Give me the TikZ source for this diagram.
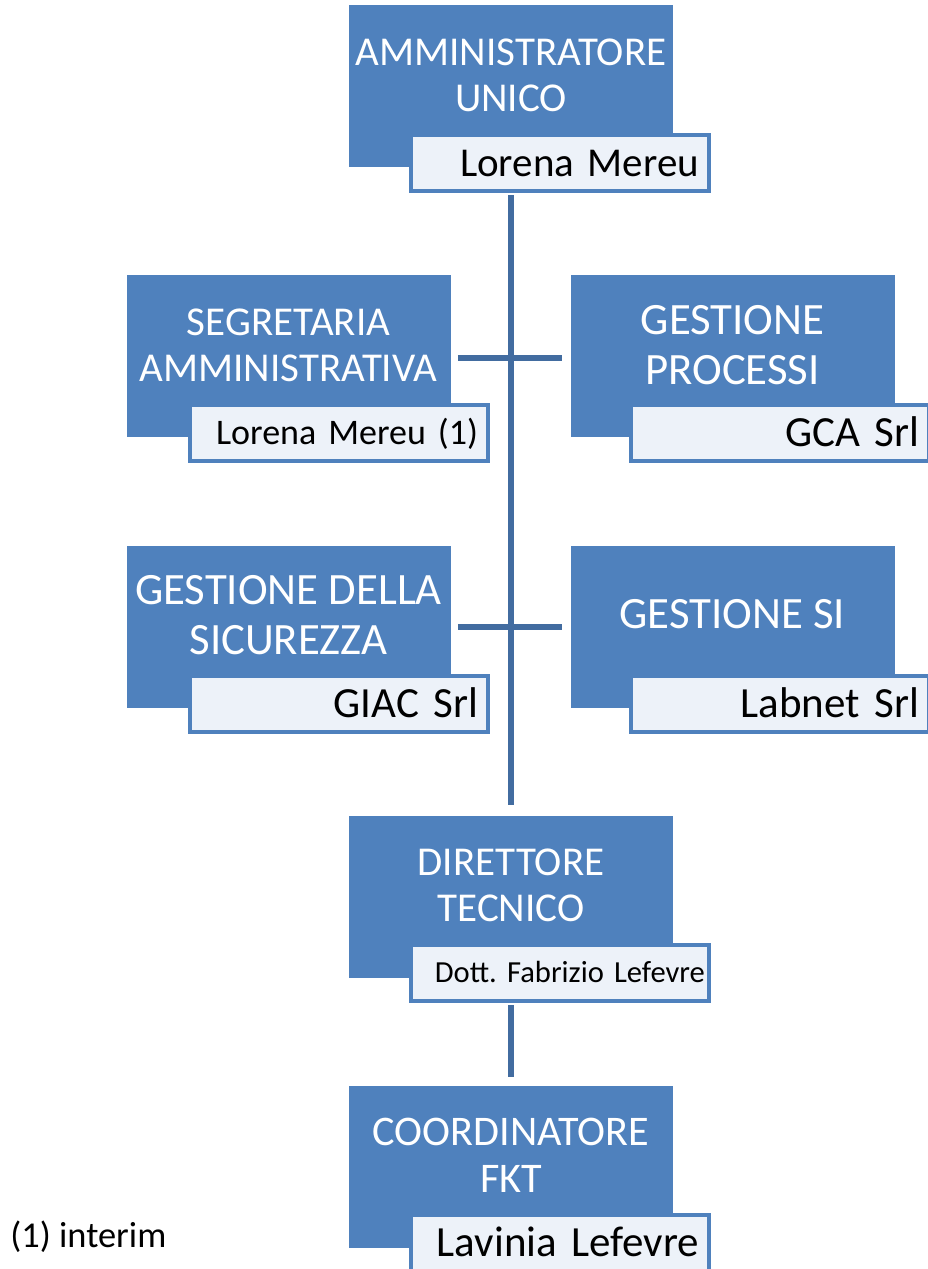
\documentclass[tikz,border=0pt]{standalone}
\usepackage{fontspec}
\setmainfont{Carlito}
\frenchspacing
\usetikzlibrary{positioning,calc}
\definecolor{unitblue}{RGB}{79,129,189}
\definecolor{namefill}{RGB}{237,242,249}
\definecolor{linkblue}{RGB}{66,108,160}
\tikzset{
  unitbox/.style={fill=unitblue, minimum width=162pt, minimum height=81pt, inner sep=0pt},
  unittitle/.style={text=white, align=center, font=\fontsize{20.5}{23}\selectfont, text depth=0pt, inner sep=0pt},
  bigtitle/.style={unittitle, font=\fontsize{22.4}{25}\selectfont},
  namebox/.style={draw=unitblue, line width=2pt, fill=namefill, text width=139pt, inner xsep=5pt, inner ysep=0pt, minimum height=28pt, align=right, text height=13.8pt, text depth=0pt, font=\fontsize{21.5}{24}\selectfont},
  linkline/.style={draw=linkblue, line width=2.75pt}
}

\begin{document}
\begin{tikzpicture}[x=0.5pt, y=-0.5pt]
  \useasboundingbox (0,0) rectangle (927,1269);
  % vertice
  \node[unitbox] (amm) at (511,86) {};
  \node[unittitle] at ([yshift=5.5pt]amm.center) {AMMINISTRATORE\\UNICO};
  \node[namebox, font=\fontsize{20.5}{24}\selectfont, text height=13.2pt] (ammname) at (560,163) {Lorena Mereu};
  % staff
  \node[unitbox] (seg) at (288.5,356) {};
  \node[unittitle] at ([yshift=5.5pt]seg.center) {SEGRETARIA\\AMMINISTRATIVA};
  \node[namebox, font=\fontsize{18}{22}\selectfont, text height=11.6pt] (segname) at (339,433) {Lorena Mereu (1)};
  \node[unitbox] (proc) at (732.5,356) {};
  \node[bigtitle] at ([yshift=5.75pt]proc.center) {GESTIONE\\PROCESSI};
  \node[namebox] (procname) at (780,433) {GCA Srl};
  \node[unitbox] (sic) at (288.5,627) {};
  \node[bigtitle] at ([yshift=6pt]sic.center) {GESTIONE DELLA\\SICUREZZA};
  \node[namebox] (sicname) at (339,703.5) {GIAC Srl};
  \node[unitbox] (si) at (732.5,627) {};
  \node[bigtitle] at ([yshift=6.5pt]si.center) {GESTIONE SI};
  \node[namebox] (siname) at (780,703.5) {Labnet Srl};
  % linea tecnica
  \node[unitbox] (dir) at (511,896.5) {};
  \node[unittitle] at ([yshift=5.75pt]dir.center) {DIRETTORE\\TECNICO};
  \node[namebox, text width=145pt, inner xsep=2pt, font=\fontsize{15.3}{19}\selectfont, text height=9.9pt] (dirname) at (560,973) {Dott. Fabrizio Lefevre};
  \node[unitbox] (coord) at (511,1167) {};
  \node[unittitle, font=\fontsize{21.1}{23.5}\selectfont] at ([yshift=6pt]coord.center) {COORDINATORE\\FKT};
  \node[namebox] (coordname) at (560,1243) {Lavinia Lefevre};
  \node[anchor=west, inner sep=0pt, font=\fontsize{18.2}{20}\selectfont] (nota) at (10,1237) {(1) interim};
  % collegamenti
  \draw[linkline, shorten <=1pt, shorten >=5pt] (ammname.south -| amm.center) -- (dir.north);
  \draw[linkline, shorten <=3.5pt, shorten >=4pt] ([yshift=-1pt]seg.east) -- ([yshift=-1pt]seg.east -| proc.west);
  \draw[linkline, shorten <=3.5pt, shorten >=4pt] (sic.east) -- (sic.east -| si.west);
  \draw[linkline, shorten <=1pt, shorten >=4.5pt] (dirname.south -| dir.center) -- (coord.north);
\end{tikzpicture}
\end{document}
